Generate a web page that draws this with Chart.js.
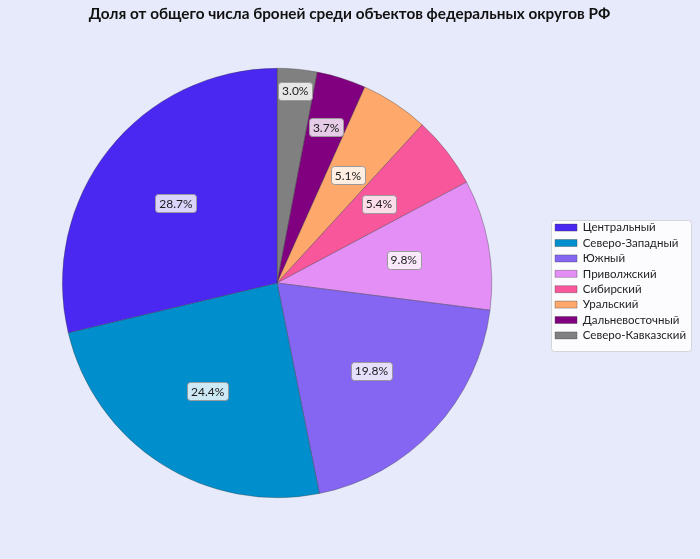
<!DOCTYPE html>
<html>
<head>
<meta charset="utf-8">
<script src="https://cdn.jsdelivr.net/npm/chart.js@4.4.1/dist/chart.umd.min.js"></script>
<style>
  html, body { margin: 0; padding: 0; background: #e6eafa; }
  #wrap { width: 700px; height: 559px; position: relative; }
</style>
</head>
<body>
<div id="wrap"><canvas id="c" width="700" height="559"></canvas></div>
<script>
const categories = ['Центральный', 'Северо-Западный', 'Южный', 'Приволжский', 'Сибирский', 'Уральский', 'Дальневосточный', 'Северо-Кавказский'];
const shares = [28.7, 24.4, 19.8, 9.8, 5.4, 5.1, 3.7, 3.0];
const colors = ['#4a28f2', '#008fcc', '#8566f2', '#e38ff6', '#f9579c', '#ffa86c', '#800080', '#808080'];
const titleText = 'Доля от общего числа броней среди объектов федеральных округов РФ';

// reference pie runs counter-clockwise from 12 o'clock; Chart.js runs clockwise -> reverse order
const revLabels = categories.slice().reverse();
const revData = shares.slice().reverse();
const revColors = colors.slice().reverse();

const FONT = 'Lato, "DejaVu Sans", sans-serif';

const legendBg = {
  id: 'legendBg',
  beforeDraw(chart) {
    const ctx = chart.ctx;
    ctx.save();
    ctx.fillStyle = '#e6eafa';
    ctx.fillRect(0, 0, chart.width, chart.height);
    const lg = chart.legend;
    if (lg && lg.legendHitBoxes && lg.legendHitBoxes.length) {
      let x0 = Infinity, y0 = Infinity, x1 = -Infinity, y1 = -Infinity;
      lg.legendHitBoxes.forEach(h => {
        x0 = Math.min(x0, h.left); y0 = Math.min(y0, h.top);
        x1 = Math.max(x1, h.left + h.width); y1 = Math.max(y1, h.top + h.height);
      });
      x0 -= 4; y0 -= 2; x1 += 5; y1 += 10;
      ctx.fillStyle = 'rgba(255,255,255,0.85)';
      ctx.strokeStyle = '#d4d4d8';
      ctx.lineWidth = 1;
      ctx.beginPath();
      ctx.roundRect(Math.round(x0) + 0.5, Math.round(y0) + 0.5, Math.round(x1 - x0), Math.round(y1 - y0), 3);
      ctx.fill();
      ctx.stroke();
    }
    ctx.restore();
  }
};

const pctLabels = {
  id: 'pctLabels',
  afterDatasetsDraw(chart) {
    const ctx = chart.ctx;
    const meta = chart.getDatasetMeta(0);
    const data = chart.data.datasets[0].data;
    ctx.save();
    ctx.font = '12px ' + FONT;
    ctx.textAlign = 'center';
    ctx.textBaseline = 'middle';
    meta.data.forEach((arc, i) => {
      const v = data[i];
      const f = v < 3.5 ? 0.9 : (v < 4.5 ? 0.76 : 0.6);
      const a = (arc.startAngle + arc.endAngle) / 2;
      const r = arc.outerRadius * f;
      const x = arc.x + Math.cos(a) * r;
      const y = arc.y + Math.sin(a) * r;
      const txt = v.toFixed(1) + '%';
      const w = ctx.measureText(txt).width + 8;
      const h = 18;
      ctx.fillStyle = 'rgba(255,255,255,0.8)';
      ctx.strokeStyle = '#9a9a9a';
      ctx.lineWidth = 1;
      ctx.beginPath();
      ctx.roundRect(Math.round(x - w / 2) + 0.5, Math.round(y - h / 2) + 0.5, Math.round(w), h, 3);
      ctx.fill();
      ctx.stroke();
      ctx.fillStyle = '#1a1a1a';
      ctx.fillText(txt, x, y + 0.5);
    });
    ctx.restore();
  }
};

new Chart(document.getElementById('c'), {
  type: 'pie',
  data: {
    labels: revLabels,
    datasets: [{
      data: revData,
      backgroundColor: revColors,
      borderColor: 'rgba(60,60,60,0.6)',
      borderWidth: 0.6
    }]
  },
  options: {
    responsive: false,
    animation: false,
    devicePixelRatio: 1,
    layout: { padding: { top: 0, bottom: 61, left: 3, right: 4 } },
    plugins: {
      title: {
        display: true,
        text: titleText,
        color: '#111',
        font: { family: FONT, size: 15.3, weight: 'bold', lineHeight: 1.2 },
        padding: { top: 5, bottom: 44.6 }
      },
      legend: {
        position: 'right',
        reverse: true,
        title: { display: true, text: '', font: { size: 10, lineHeight: 1 }, padding: { top: 27.5, bottom: 27.5 } },
        labels: {
          color: '#222',
          font: { family: FONT, size: 11.5 },
          boxWidth: 22,
          boxHeight: 7,
          padding: 3.9
        }
      },
      tooltip: { enabled: false }
    }
  },
  plugins: [legendBg, pctLabels]
});
</script>
</body>
</html>
